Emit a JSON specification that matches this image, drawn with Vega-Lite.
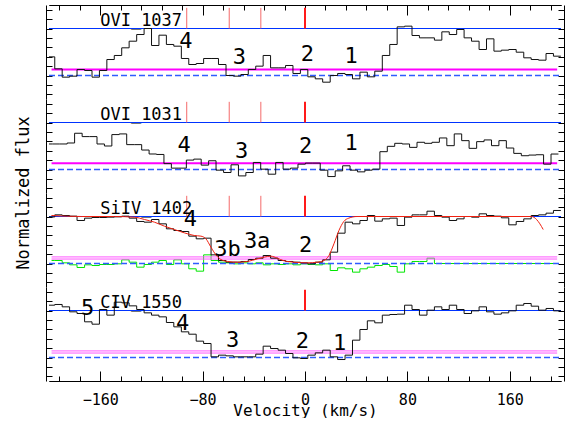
{
"$schema": "https://vega.github.io/schema/vega-lite/v6.json",
"padding": {"left": 14, "top": 4, "right": 15, "bottom": 0},
"config": {
  "view": {"stroke": null},
  "axis": {"grid": false, "domainColor": "#000", "tickColor": "#000", "labelFont": "DejaVu Sans Mono", "labelFontSize": 15, "labelColor": "#000", "titleFont": "DejaVu Sans Mono", "titleFontSize": 16, "titleFontWeight": "normal", "titleColor": "#000", "minExtent": 0},
  "text": {"font": "DejaVu Sans Mono", "color": "#000"}
},
"data": {"values": [
  {"kind":"cont","ion":"OVI_1037","v":-200,"v2":200,"f":1},
  {"kind":"cont","ion":"OVI_1031","v":-200,"v2":200,"f":1},
  {"kind":"cont","ion":"SiIV_1402","v":-200,"v2":200,"f":1},
  {"kind":"cont","ion":"CIV_1550","v":-200,"v2":200,"f":1},
  {"kind":"zero","ion":"OVI_1037","v":-200,"f":0},{"kind":"zero","ion":"OVI_1037","v":200,"f":0},
  {"kind":"zero","ion":"OVI_1031","v":-200,"f":0},{"kind":"zero","ion":"OVI_1031","v":200,"f":0},
  {"kind":"zero","ion":"SiIV_1402","v":-200,"f":0},{"kind":"zero","ion":"SiIV_1402","v":200,"f":0},
  {"kind":"zero","ion":"CIV_1550","v":-200,"f":0},{"kind":"zero","ion":"CIV_1550","v":200,"f":0},
  {"kind":"mag1","ion":"OVI_1037","v":-198,"v2":197,"f":0.13},
  {"kind":"mag1","ion":"OVI_1031","v":-198,"v2":197,"f":0.135},
  {"kind":"mag2","ion":"SiIV_1402","v":-198,"v2":197,"f":0.14},
  {"kind":"mag2","ion":"SiIV_1402","v":-198,"v2":197,"f":0.095},
  {"kind":"mag2","ion":"CIV_1550","v":-198,"v2":197,"f":0.14},
  {"kind":"mag2","ion":"CIV_1550","v":-198,"v2":197,"f":0.095},
  {"kind":"vt","ion":"OVI_1037","v":-92.4,"f":1,"f2":1.44},
  {"kind":"vt","ion":"OVI_1037","v":-59.2,"f":1,"f2":1.44},
  {"kind":"vt","ion":"OVI_1037","v":-34.5,"f":1,"f2":1.44},
  {"kind":"vt","ion":"OVI_1031","v":-92.4,"f":1,"f2":1.44},
  {"kind":"vt","ion":"OVI_1031","v":-59.2,"f":1,"f2":1.44},
  {"kind":"vt","ion":"OVI_1031","v":-34.5,"f":1,"f2":1.44},
  {"kind":"vt","ion":"SiIV_1402","v":-92.4,"f":1,"f2":1.44},
  {"kind":"vt","ion":"SiIV_1402","v":-59.2,"f":1,"f2":1.44},
  {"kind":"vt","ion":"SiIV_1402","v":-34.5,"f":1,"f2":1.44},
  {"kind":"vt0","ion":"OVI_1037","v":0,"f":1,"f2":1.44},
  {"kind":"vt0","ion":"OVI_1031","v":0,"f":1,"f2":1.44},
  {"kind":"vt0","ion":"SiIV_1402","v":0,"f":1,"f2":1.44},
  {"kind":"vt0","ion":"CIV_1550","v":0,"f":1,"f2":1.44},
  {"kind":"ionlab","ion":"OVI_1037","v":-160,"f":1.06,"t":"OVI_1037"},
  {"kind":"ionlab","ion":"OVI_1031","v":-160,"f":1.06,"t":"OVI_1031"},
  {"kind":"ionlab","ion":"SiIV_1402","v":-160,"f":1.06,"t":"SiIV_1402"},
  {"kind":"ionlab","ion":"CIV_1550","v":-160,"f":1.06,"t":"CIV_1550"},
  {"kind":"comp","ion":"OVI_1037","v":-93,"f":0.59,"t":"4"},
  {"kind":"comp","ion":"OVI_1037","v":-51.2,"f":0.24,"t":"3"},
  {"kind":"comp","ion":"OVI_1037","v":1.8,"f":0.31,"t":"2"},
  {"kind":"comp","ion":"OVI_1037","v":36,"f":0.26,"t":"1"},
  {"kind":"comp","ion":"OVI_1031","v":-94.5,"f":0.38,"t":"4"},
  {"kind":"comp","ion":"OVI_1031","v":-49.6,"f":0.25,"t":"3"},
  {"kind":"comp","ion":"OVI_1031","v":0.5,"f":0.36,"t":"2"},
  {"kind":"comp","ion":"OVI_1031","v":36,"f":0.41,"t":"1"},
  {"kind":"comp","ion":"SiIV_1402","v":-89.5,"f":0.8,"t":"4"},
  {"kind":"comp","ion":"SiIV_1402","v":-60.5,"f":0.17,"t":"3b"},
  {"kind":"comp","ion":"SiIV_1402","v":-37.4,"f":0.34,"t":"3a"},
  {"kind":"comp","ion":"SiIV_1402","v":0.5,"f":0.25,"t":"2"},
  {"kind":"comp","ion":"CIV_1550","v":-169.8,"f":0.9,"t":"5"},
  {"kind":"comp","ion":"CIV_1550","v":-95.6,"f":0.58,"t":"4"},
  {"kind":"comp","ion":"CIV_1550","v":-56.6,"f":0.22,"t":"3"},
  {"kind":"comp","ion":"CIV_1550","v":-2.1,"f":0.21,"t":"2"},
  {"kind":"comp","ion":"CIV_1550","v":27,"f":0.17,"t":"1"},
  {"kind":"s","ion":"OVI_1037","v":-200,"f":0.397},{"kind":"s","ion":"OVI_1037","v":-195.5,"f":0.142},{"kind":"s","ion":"OVI_1037","v":-189.7,"f":-0.035},{"kind":"s","ion":"OVI_1037","v":-183.9,"f":-0.014},{"kind":"s","ion":"OVI_1037","v":-178.1,"f":0.128},{"kind":"s","ion":"OVI_1037","v":-172.2,"f":0.106},{"kind":"s","ion":"OVI_1037","v":-166.4,"f":-0.035},{"kind":"s","ion":"OVI_1037","v":-160.6,"f":0.106},{"kind":"s","ion":"OVI_1037","v":-154.8,"f":0.34},{"kind":"s","ion":"OVI_1037","v":-149,"f":0.426},{"kind":"s","ion":"OVI_1037","v":-143.2,"f":0.589},{"kind":"s","ion":"OVI_1037","v":-137.4,"f":0.73},{"kind":"s","ion":"OVI_1037","v":-131.5,"f":0.872},{"kind":"s","ion":"OVI_1037","v":-125.7,"f":1.0},{"kind":"s","ion":"OVI_1037","v":-119.9,"f":0.638},{"kind":"s","ion":"OVI_1037","v":-114.1,"f":0.858},{"kind":"s","ion":"OVI_1037","v":-108.3,"f":0.66},{"kind":"s","ion":"OVI_1037","v":-102.5,"f":0.624},{"kind":"s","ion":"OVI_1037","v":-96.6,"f":0.362},{"kind":"s","ion":"OVI_1037","v":-90.8,"f":0.234},{"kind":"s","ion":"OVI_1037","v":-85,"f":0.255},{"kind":"s","ion":"OVI_1037","v":-79.2,"f":0.362},{"kind":"s","ion":"OVI_1037","v":-73.4,"f":0.362},{"kind":"s","ion":"OVI_1037","v":-67.6,"f":0.234},{"kind":"s","ion":"OVI_1037","v":-61.7,"f":0.0},{"kind":"s","ion":"OVI_1037","v":-55.9,"f":-0.014},{"kind":"s","ion":"OVI_1037","v":-50.1,"f":0.021},{"kind":"s","ion":"OVI_1037","v":-44.3,"f":0.128},{"kind":"s","ion":"OVI_1037","v":-38.5,"f":0.199},{"kind":"s","ion":"OVI_1037","v":-32.7,"f":0.426},{"kind":"s","ion":"OVI_1037","v":-26.9,"f":0.163},{"kind":"s","ion":"OVI_1037","v":-21,"f":0.163},{"kind":"s","ion":"OVI_1037","v":-15.2,"f":0.213},{"kind":"s","ion":"OVI_1037","v":-9.4,"f":0.043},{"kind":"s","ion":"OVI_1037","v":-3.6,"f":0.128},{"kind":"s","ion":"OVI_1037","v":2.2,"f":-0.028},{"kind":"s","ion":"OVI_1037","v":8,"f":-0.071},{"kind":"s","ion":"OVI_1037","v":13.8,"f":-0.142},{"kind":"s","ion":"OVI_1037","v":19.7,"f":0},{"kind":"s","ion":"OVI_1037","v":25.5,"f":0.043},{"kind":"s","ion":"OVI_1037","v":31.3,"f":0.021},{"kind":"s","ion":"OVI_1037","v":37.1,"f":-0.071},{"kind":"s","ion":"OVI_1037","v":42.9,"f":0.071},{"kind":"s","ion":"OVI_1037","v":48.7,"f":-0.028},{"kind":"s","ion":"OVI_1037","v":54.5,"f":0.092},{"kind":"s","ion":"OVI_1037","v":60.4,"f":0.426},{"kind":"s","ion":"OVI_1037","v":66.2,"f":0.66},{"kind":"s","ion":"OVI_1037","v":72,"f":1.035},{"kind":"s","ion":"OVI_1037","v":77.8,"f":1.05},{"kind":"s","ion":"OVI_1037","v":83.6,"f":0.851},{"kind":"s","ion":"OVI_1037","v":89.4,"f":0.801},{"kind":"s","ion":"OVI_1037","v":95.3,"f":0.801},{"kind":"s","ion":"OVI_1037","v":101.1,"f":0.752},{"kind":"s","ion":"OVI_1037","v":106.9,"f":0.929},{"kind":"s","ion":"OVI_1037","v":112.7,"f":0.872},{"kind":"s","ion":"OVI_1037","v":118.5,"f":0.979},{"kind":"s","ion":"OVI_1037","v":124.3,"f":0.801},{"kind":"s","ion":"OVI_1037","v":130.1,"f":0.73},{"kind":"s","ion":"OVI_1037","v":136,"f":0.553},{"kind":"s","ion":"OVI_1037","v":141.8,"f":0.78},{"kind":"s","ion":"OVI_1037","v":147.6,"f":0.518},{"kind":"s","ion":"OVI_1037","v":153.4,"f":0.539},{"kind":"s","ion":"OVI_1037","v":159.2,"f":0.553},{"kind":"s","ion":"OVI_1037","v":165,"f":0.496},{"kind":"s","ion":"OVI_1037","v":170.9,"f":0.376},{"kind":"s","ion":"OVI_1037","v":176.7,"f":0.34},{"kind":"s","ion":"OVI_1037","v":182.5,"f":0.326},{"kind":"s","ion":"OVI_1037","v":188.3,"f":0.468},{"kind":"s","ion":"OVI_1037","v":194.1,"f":0.411},{"kind":"s","ion":"OVI_1037","v":199.9,"f":0.411},
  {"kind":"s","ion":"OVI_1031","v":-200,"f":0.543},{"kind":"s","ion":"OVI_1031","v":-197.4,"f":0.543},{"kind":"s","ion":"OVI_1031","v":-191.6,"f":0.543},{"kind":"s","ion":"OVI_1031","v":-185.8,"f":0.564},{"kind":"s","ion":"OVI_1031","v":-180,"f":0.771},{"kind":"s","ion":"OVI_1031","v":-174.1,"f":0.7},{"kind":"s","ion":"OVI_1031","v":-168.3,"f":0.7},{"kind":"s","ion":"OVI_1031","v":-162.5,"f":0.543},{"kind":"s","ion":"OVI_1031","v":-156.7,"f":0.5},{"kind":"s","ion":"OVI_1031","v":-150.9,"f":0.743},{"kind":"s","ion":"OVI_1031","v":-145.1,"f":0.757},{"kind":"s","ion":"OVI_1031","v":-139.3,"f":0.529},{"kind":"s","ion":"OVI_1031","v":-133.4,"f":0.529},{"kind":"s","ion":"OVI_1031","v":-127.6,"f":0.414},{"kind":"s","ion":"OVI_1031","v":-121.8,"f":0.33},{"kind":"s","ion":"OVI_1031","v":-116,"f":0.32},{"kind":"s","ion":"OVI_1031","v":-110.2,"f":0.125},{"kind":"s","ion":"OVI_1031","v":-104.4,"f":0.029},{"kind":"s","ion":"OVI_1031","v":-98.5,"f":0.029},{"kind":"s","ion":"OVI_1031","v":-92.7,"f":0.2},{"kind":"s","ion":"OVI_1031","v":-86.9,"f":0.221},{"kind":"s","ion":"OVI_1031","v":-81.1,"f":0.093},{"kind":"s","ion":"OVI_1031","v":-75.3,"f":0.186},{"kind":"s","ion":"OVI_1031","v":-69.5,"f":-0.014},{"kind":"s","ion":"OVI_1031","v":-63.6,"f":-0.064},{"kind":"s","ion":"OVI_1031","v":-57.8,"f":0.1},{"kind":"s","ion":"OVI_1031","v":-52,"f":-0.136},{"kind":"s","ion":"OVI_1031","v":-46.2,"f":-0.064},{"kind":"s","ion":"OVI_1031","v":-40.4,"f":0.15},{"kind":"s","ion":"OVI_1031","v":-34.6,"f":0.007},{"kind":"s","ion":"OVI_1031","v":-28.8,"f":-0.1},{"kind":"s","ion":"OVI_1031","v":-22.9,"f":0.15},{"kind":"s","ion":"OVI_1031","v":-17.1,"f":0.007},{"kind":"s","ion":"OVI_1031","v":-11.3,"f":0.029},{"kind":"s","ion":"OVI_1031","v":-5.5,"f":0.114},{"kind":"s","ion":"OVI_1031","v":0.3,"f":0.136},{"kind":"s","ion":"OVI_1031","v":6.1,"f":0.136},{"kind":"s","ion":"OVI_1031","v":11.9,"f":-0.014},{"kind":"s","ion":"OVI_1031","v":17.8,"f":-0.15},{"kind":"s","ion":"OVI_1031","v":23.6,"f":-0.029},{"kind":"s","ion":"OVI_1031","v":29.4,"f":0.079},{"kind":"s","ion":"OVI_1031","v":35.2,"f":-0.014},{"kind":"s","ion":"OVI_1031","v":41,"f":-0.05},{"kind":"s","ion":"OVI_1031","v":46.8,"f":-0.014},{"kind":"s","ion":"OVI_1031","v":52.6,"f":0.007},{"kind":"s","ion":"OVI_1031","v":58.5,"f":0.379},{"kind":"s","ion":"OVI_1031","v":64.3,"f":0.493},{"kind":"s","ion":"OVI_1031","v":70.1,"f":0.557},{"kind":"s","ion":"OVI_1031","v":75.9,"f":0.543},{"kind":"s","ion":"OVI_1031","v":81.7,"f":0.471},{"kind":"s","ion":"OVI_1031","v":87.5,"f":0.579},{"kind":"s","ion":"OVI_1031","v":93.4,"f":0.557},{"kind":"s","ion":"OVI_1031","v":99.2,"f":0.579},{"kind":"s","ion":"OVI_1031","v":105,"f":0.671},{"kind":"s","ion":"OVI_1031","v":110.8,"f":0.507},{"kind":"s","ion":"OVI_1031","v":116.6,"f":0.757},{"kind":"s","ion":"OVI_1031","v":122.4,"f":0.614},{"kind":"s","ion":"OVI_1031","v":128.2,"f":0.45},{"kind":"s","ion":"OVI_1031","v":134.1,"f":0.593},{"kind":"s","ion":"OVI_1031","v":139.9,"f":0.629},{"kind":"s","ion":"OVI_1031","v":145.7,"f":0.507},{"kind":"s","ion":"OVI_1031","v":151.5,"f":0.614},{"kind":"s","ion":"OVI_1031","v":157.3,"f":0.457},{"kind":"s","ion":"OVI_1031","v":163.1,"f":0.343},{"kind":"s","ion":"OVI_1031","v":169,"f":0.293},{"kind":"s","ion":"OVI_1031","v":174.8,"f":0.307},{"kind":"s","ion":"OVI_1031","v":180.6,"f":0.314},{"kind":"s","ion":"OVI_1031","v":186.4,"f":0.114},{"kind":"s","ion":"OVI_1031","v":192.2,"f":0.329},{"kind":"s","ion":"OVI_1031","v":198,"f":0.329},
  {"kind":"s","ion":"SiIV_1402","v":-200,"f":0.99},{"kind":"s","ion":"SiIV_1402","v":-195.5,"f":1.035},{"kind":"s","ion":"SiIV_1402","v":-189.7,"f":1.021},{"kind":"s","ion":"SiIV_1402","v":-183.9,"f":1.007},{"kind":"s","ion":"SiIV_1402","v":-178.1,"f":0.915},{"kind":"s","ion":"SiIV_1402","v":-172.2,"f":0.965},{"kind":"s","ion":"SiIV_1402","v":-166.4,"f":0.979},{"kind":"s","ion":"SiIV_1402","v":-160.6,"f":0.979},{"kind":"s","ion":"SiIV_1402","v":-154.8,"f":0.986},{"kind":"s","ion":"SiIV_1402","v":-149,"f":0.993},{"kind":"s","ion":"SiIV_1402","v":-143.2,"f":1.007},{"kind":"s","ion":"SiIV_1402","v":-137.4,"f":0.965},{"kind":"s","ion":"SiIV_1402","v":-131.5,"f":0.894},{"kind":"s","ion":"SiIV_1402","v":-125.7,"f":0.879},{"kind":"s","ion":"SiIV_1402","v":-119.9,"f":0.936},{"kind":"s","ion":"SiIV_1402","v":-114.1,"f":0.844},{"kind":"s","ion":"SiIV_1402","v":-108.3,"f":0.738},{"kind":"s","ion":"SiIV_1402","v":-102.5,"f":0.702},{"kind":"s","ion":"SiIV_1402","v":-96.6,"f":0.681},{"kind":"s","ion":"SiIV_1402","v":-90.8,"f":0.582},{"kind":"s","ion":"SiIV_1402","v":-85,"f":0.525},{"kind":"s","ion":"SiIV_1402","v":-79.2,"f":0.539},{"kind":"s","ion":"SiIV_1402","v":-73.4,"f":0.184},{"kind":"s","ion":"SiIV_1402","v":-67.6,"f":0.064},{"kind":"s","ion":"SiIV_1402","v":-61.7,"f":0.028},{"kind":"s","ion":"SiIV_1402","v":-55.9,"f":0.028},{"kind":"s","ion":"SiIV_1402","v":-50.1,"f":0.043},{"kind":"s","ion":"SiIV_1402","v":-44.3,"f":0.085},{"kind":"s","ion":"SiIV_1402","v":-38.5,"f":0.113},{"kind":"s","ion":"SiIV_1402","v":-32.7,"f":0.17},{"kind":"s","ion":"SiIV_1402","v":-26.9,"f":0.113},{"kind":"s","ion":"SiIV_1402","v":-21,"f":0.064},{"kind":"s","ion":"SiIV_1402","v":-15.2,"f":0.043},{"kind":"s","ion":"SiIV_1402","v":-9.4,"f":0.028},{"kind":"s","ion":"SiIV_1402","v":-3.6,"f":0.014},{"kind":"s","ion":"SiIV_1402","v":2.2,"f":-0.007},{"kind":"s","ion":"SiIV_1402","v":8,"f":0.028},{"kind":"s","ion":"SiIV_1402","v":13.8,"f":0.078},{"kind":"s","ion":"SiIV_1402","v":19.7,"f":0.241},{"kind":"s","ion":"SiIV_1402","v":25.5,"f":0.645},{"kind":"s","ion":"SiIV_1402","v":31.3,"f":0.879},{"kind":"s","ion":"SiIV_1402","v":37.1,"f":0.844},{"kind":"s","ion":"SiIV_1402","v":42.9,"f":0.915},{"kind":"s","ion":"SiIV_1402","v":48.7,"f":1.021},{"kind":"s","ion":"SiIV_1402","v":54.5,"f":0.901},{"kind":"s","ion":"SiIV_1402","v":60.4,"f":0.95},{"kind":"s","ion":"SiIV_1402","v":66.2,"f":0.965},{"kind":"s","ion":"SiIV_1402","v":72,"f":0.809},{"kind":"s","ion":"SiIV_1402","v":77.8,"f":0.986},{"kind":"s","ion":"SiIV_1402","v":83.6,"f":1.035},{"kind":"s","ion":"SiIV_1402","v":89.4,"f":1.035},{"kind":"s","ion":"SiIV_1402","v":95.3,"f":1.113},{"kind":"s","ion":"SiIV_1402","v":101.1,"f":1.021},{"kind":"s","ion":"SiIV_1402","v":106.9,"f":0.986},{"kind":"s","ion":"SiIV_1402","v":112.7,"f":0.915},{"kind":"s","ion":"SiIV_1402","v":118.5,"f":0.95},{"kind":"s","ion":"SiIV_1402","v":124.3,"f":1.0},{"kind":"s","ion":"SiIV_1402","v":130.1,"f":0.986},{"kind":"s","ion":"SiIV_1402","v":136,"f":1.057},{"kind":"s","ion":"SiIV_1402","v":141.8,"f":1.021},{"kind":"s","ion":"SiIV_1402","v":147.6,"f":1.007},{"kind":"s","ion":"SiIV_1402","v":153.4,"f":0.972},{"kind":"s","ion":"SiIV_1402","v":159.2,"f":0.823},{"kind":"s","ion":"SiIV_1402","v":165,"f":0.894},{"kind":"s","ion":"SiIV_1402","v":170.9,"f":0.95},{"kind":"s","ion":"SiIV_1402","v":176.7,"f":1.021},{"kind":"s","ion":"SiIV_1402","v":182.5,"f":1.035},{"kind":"s","ion":"SiIV_1402","v":188.3,"f":1.071},{"kind":"s","ion":"SiIV_1402","v":194.1,"f":1.128},{"kind":"s","ion":"SiIV_1402","v":199.9,"f":1.128},
  {"kind":"s","ion":"CIV_1550","v":-200,"f":1.113},{"kind":"s","ion":"CIV_1550","v":-195.5,"f":1.128},{"kind":"s","ion":"CIV_1550","v":-189.7,"f":1.078},{"kind":"s","ion":"CIV_1550","v":-183.9,"f":0.972},{"kind":"s","ion":"CIV_1550","v":-178.1,"f":0.936},{"kind":"s","ion":"CIV_1550","v":-172.2,"f":0.759},{"kind":"s","ion":"CIV_1550","v":-166.4,"f":0.709},{"kind":"s","ion":"CIV_1550","v":-160.6,"f":1.021},{"kind":"s","ion":"CIV_1550","v":-154.8,"f":0.901},{"kind":"s","ion":"CIV_1550","v":-149,"f":1.177},{"kind":"s","ion":"CIV_1550","v":-143.2,"f":1.163},{"kind":"s","ion":"CIV_1550","v":-137.4,"f":1.099},{"kind":"s","ion":"CIV_1550","v":-131.5,"f":1.021},{"kind":"s","ion":"CIV_1550","v":-125.7,"f":0.95},{"kind":"s","ion":"CIV_1550","v":-119.9,"f":0.901},{"kind":"s","ion":"CIV_1550","v":-114.1,"f":0.865},{"kind":"s","ion":"CIV_1550","v":-108.3,"f":0.745},{"kind":"s","ion":"CIV_1550","v":-102.5,"f":0.652},{"kind":"s","ion":"CIV_1550","v":-96.6,"f":0.546},{"kind":"s","ion":"CIV_1550","v":-90.8,"f":0.496},{"kind":"s","ion":"CIV_1550","v":-85,"f":0.348},{"kind":"s","ion":"CIV_1550","v":-79.2,"f":0.298},{"kind":"s","ion":"CIV_1550","v":-73.4,"f":0.014},{"kind":"s","ion":"CIV_1550","v":-67.6,"f":0.05},{"kind":"s","ion":"CIV_1550","v":-61.7,"f":0.035},{"kind":"s","ion":"CIV_1550","v":-55.9,"f":0.014},{"kind":"s","ion":"CIV_1550","v":-50.1,"f":0.014},{"kind":"s","ion":"CIV_1550","v":-44.3,"f":0.014},{"kind":"s","ion":"CIV_1550","v":-38.5,"f":0.071},{"kind":"s","ion":"CIV_1550","v":-32.7,"f":0.241},{"kind":"s","ion":"CIV_1550","v":-26.9,"f":0.191},{"kind":"s","ion":"CIV_1550","v":-21,"f":0.156},{"kind":"s","ion":"CIV_1550","v":-15.2,"f":0.085},{"kind":"s","ion":"CIV_1550","v":-9.4,"f":-0.007},{"kind":"s","ion":"CIV_1550","v":-3.6,"f":-0.021},{"kind":"s","ion":"CIV_1550","v":2.2,"f":0.05},{"kind":"s","ion":"CIV_1550","v":8,"f":0.099},{"kind":"s","ion":"CIV_1550","v":13.8,"f":0.156},{"kind":"s","ion":"CIV_1550","v":19.7,"f":0.014},{"kind":"s","ion":"CIV_1550","v":25.5,"f":-0.043},{"kind":"s","ion":"CIV_1550","v":31.3,"f":0.05},{"kind":"s","ion":"CIV_1550","v":37.1,"f":0.369},{"kind":"s","ion":"CIV_1550","v":42.9,"f":0.596},{"kind":"s","ion":"CIV_1550","v":48.7,"f":0.78},{"kind":"s","ion":"CIV_1550","v":54.5,"f":0.738},{"kind":"s","ion":"CIV_1550","v":60.4,"f":0.901},{"kind":"s","ion":"CIV_1550","v":66.2,"f":0.915},{"kind":"s","ion":"CIV_1550","v":72,"f":0.922},{"kind":"s","ion":"CIV_1550","v":77.8,"f":1.113},{"kind":"s","ion":"CIV_1550","v":83.6,"f":1.021},{"kind":"s","ion":"CIV_1550","v":89.4,"f":0.901},{"kind":"s","ion":"CIV_1550","v":95.3,"f":1.007},{"kind":"s","ion":"CIV_1550","v":101.1,"f":1.078},{"kind":"s","ion":"CIV_1550","v":106.9,"f":1.021},{"kind":"s","ion":"CIV_1550","v":112.7,"f":1.113},{"kind":"s","ion":"CIV_1550","v":118.5,"f":1.021},{"kind":"s","ion":"CIV_1550","v":124.3,"f":0.936},{"kind":"s","ion":"CIV_1550","v":130.1,"f":0.993},{"kind":"s","ion":"CIV_1550","v":136,"f":1.078},{"kind":"s","ion":"CIV_1550","v":141.8,"f":0.972},{"kind":"s","ion":"CIV_1550","v":147.6,"f":0.922},{"kind":"s","ion":"CIV_1550","v":153.4,"f":0.95},{"kind":"s","ion":"CIV_1550","v":159.2,"f":0.993},{"kind":"s","ion":"CIV_1550","v":165,"f":1.113},{"kind":"s","ion":"CIV_1550","v":170.9,"f":1.149},{"kind":"s","ion":"CIV_1550","v":176.7,"f":1.092},{"kind":"s","ion":"CIV_1550","v":182.5,"f":1.007},{"kind":"s","ion":"CIV_1550","v":188.3,"f":1.043},{"kind":"s","ion":"CIV_1550","v":194.1,"f":0.993},{"kind":"s","ion":"CIV_1550","v":199.9,"f":0.993},
  {"kind":"e","ion":"SiIV_1402","v":-198,"f":0.064},{"kind":"e","ion":"SiIV_1402","v":-195.5,"f":0.064},{"kind":"e","ion":"SiIV_1402","v":-189.7,"f":0.014},{"kind":"e","ion":"SiIV_1402","v":-183.9,"f":-0.028},{"kind":"e","ion":"SiIV_1402","v":-178.1,"f":-0.085},{"kind":"e","ion":"SiIV_1402","v":-172.2,"f":-0.028},{"kind":"e","ion":"SiIV_1402","v":-166.4,"f":-0.043},{"kind":"e","ion":"SiIV_1402","v":-160.6,"f":-0.021},{"kind":"e","ion":"SiIV_1402","v":-154.8,"f":-0.021},{"kind":"e","ion":"SiIV_1402","v":-149,"f":-0.007},{"kind":"e","ion":"SiIV_1402","v":-143.2,"f":0.078},{"kind":"e","ion":"SiIV_1402","v":-137.4,"f":0.028},{"kind":"e","ion":"SiIV_1402","v":-131.5,"f":-0.078},{"kind":"e","ion":"SiIV_1402","v":-125.7,"f":-0.021},{"kind":"e","ion":"SiIV_1402","v":-119.9,"f":0.028},{"kind":"e","ion":"SiIV_1402","v":-114.1,"f":0.064},{"kind":"e","ion":"SiIV_1402","v":-108.3,"f":-0.021},{"kind":"e","ion":"SiIV_1402","v":-102.5,"f":0.078},{"kind":"e","ion":"SiIV_1402","v":-96.6,"f":-0.007},{"kind":"e","ion":"SiIV_1402","v":-90.8,"f":-0.113},{"kind":"e","ion":"SiIV_1402","v":-85,"f":-0.163},{"kind":"e","ion":"SiIV_1402","v":-79.2,"f":0.184},{"kind":"e","ion":"SiIV_1402","v":-73.4,"f":0.064},{"kind":"e","ion":"SiIV_1402","v":-67.6,"f":0.028},{"kind":"e","ion":"SiIV_1402","v":-61.7,"f":0.014},{"kind":"e","ion":"SiIV_1402","v":-55.9,"f":-0.007},{"kind":"e","ion":"SiIV_1402","v":-50.1,"f":0.014},{"kind":"e","ion":"SiIV_1402","v":-44.3,"f":-0.007},{"kind":"e","ion":"SiIV_1402","v":-38.5,"f":0.014},{"kind":"e","ion":"SiIV_1402","v":-32.7,"f":-0.028},{"kind":"e","ion":"SiIV_1402","v":-26.9,"f":-0.007},{"kind":"e","ion":"SiIV_1402","v":-21,"f":-0.021},{"kind":"e","ion":"SiIV_1402","v":-15.2,"f":-0.007},{"kind":"e","ion":"SiIV_1402","v":-9.4,"f":-0.028},{"kind":"e","ion":"SiIV_1402","v":-3.6,"f":-0.007},{"kind":"e","ion":"SiIV_1402","v":2.2,"f":-0.021},{"kind":"e","ion":"SiIV_1402","v":8,"f":-0.028},{"kind":"e","ion":"SiIV_1402","v":13.8,"f":-0.007},{"kind":"e","ion":"SiIV_1402","v":19.7,"f":-0.149},{"kind":"e","ion":"SiIV_1402","v":25.5,"f":-0.092},{"kind":"e","ion":"SiIV_1402","v":31.3,"f":-0.113},{"kind":"e","ion":"SiIV_1402","v":37.1,"f":-0.184},{"kind":"e","ion":"SiIV_1402","v":42.9,"f":-0.113},{"kind":"e","ion":"SiIV_1402","v":48.7,"f":-0.078},{"kind":"e","ion":"SiIV_1402","v":54.5,"f":-0.043},{"kind":"e","ion":"SiIV_1402","v":60.4,"f":-0.021},{"kind":"e","ion":"SiIV_1402","v":66.2,"f":-0.064},{"kind":"e","ion":"SiIV_1402","v":72,"f":-0.184},{"kind":"e","ion":"SiIV_1402","v":77.8,"f":-0.007},{"kind":"e","ion":"SiIV_1402","v":83.6,"f":0.043},{"kind":"e","ion":"SiIV_1402","v":89.4,"f":0.043},{"kind":"e","ion":"SiIV_1402","v":95.3,"f":0.113},{"kind":"e","ion":"SiIV_1402","v":101.1,"f":0},{"kind":"e","ion":"SiIV_1402","v":197,"f":0},
  {"kind":"fit","ion":"SiIV_1402","v":-198.1,"f":1.021},{"kind":"fit","ion":"SiIV_1402","v":-174.7,"f":1.0},{"kind":"fit","ion":"SiIV_1402","v":-148.8,"f":1.0},{"kind":"fit","ion":"SiIV_1402","v":-133.2,"f":0.986},{"kind":"fit","ion":"SiIV_1402","v":-125.4,"f":0.936},{"kind":"fit","ion":"SiIV_1402","v":-117.6,"f":0.879},{"kind":"fit","ion":"SiIV_1402","v":-109.8,"f":0.794},{"kind":"fit","ion":"SiIV_1402","v":-102.1,"f":0.723},{"kind":"fit","ion":"SiIV_1402","v":-94.3,"f":0.652},{"kind":"fit","ion":"SiIV_1402","v":-86.5,"f":0.596},{"kind":"fit","ion":"SiIV_1402","v":-81.3,"f":0.582},{"kind":"fit","ion":"SiIV_1402","v":-77.4,"f":0.525},{"kind":"fit","ion":"SiIV_1402","v":-73.5,"f":0.348},{"kind":"fit","ion":"SiIV_1402","v":-69.6,"f":0.184},{"kind":"fit","ion":"SiIV_1402","v":-65.7,"f":0.085},{"kind":"fit","ion":"SiIV_1402","v":-60.5,"f":0.043},{"kind":"fit","ion":"SiIV_1402","v":-52.7,"f":0.028},{"kind":"fit","ion":"SiIV_1402","v":-44.9,"f":0.043},{"kind":"fit","ion":"SiIV_1402","v":-37.1,"f":0.099},{"kind":"fit","ion":"SiIV_1402","v":-31.9,"f":0.135},{"kind":"fit","ion":"SiIV_1402","v":-26.8,"f":0.156},{"kind":"fit","ion":"SiIV_1402","v":-21.6,"f":0.113},{"kind":"fit","ion":"SiIV_1402","v":-16.4,"f":0.057},{"kind":"fit","ion":"SiIV_1402","v":-8.6,"f":0.028},{"kind":"fit","ion":"SiIV_1402","v":1.8,"f":0.014},{"kind":"fit","ion":"SiIV_1402","v":9.6,"f":0.028},{"kind":"fit","ion":"SiIV_1402","v":14.8,"f":0.064},{"kind":"fit","ion":"SiIV_1402","v":18.7,"f":0.17},{"kind":"fit","ion":"SiIV_1402","v":22.6,"f":0.418},{"kind":"fit","ion":"SiIV_1402","v":26.5,"f":0.702},{"kind":"fit","ion":"SiIV_1402","v":30.3,"f":0.894},{"kind":"fit","ion":"SiIV_1402","v":34.2,"f":0.965},{"kind":"fit","ion":"SiIV_1402","v":40.7,"f":1.0},{"kind":"fit","ion":"SiIV_1402","v":177,"f":1.0},{"kind":"fit","ion":"SiIV_1402","v":180.9,"f":0.936},{"kind":"fit","ion":"SiIV_1402","v":183.5,"f":0.844},{"kind":"fit","ion":"SiIV_1402","v":186.1,"f":0.723}
]},
"facet": {"row": {"field": "ion", "type": "nominal", "sort": ["OVI_1037", "OVI_1031", "SiIV_1402", "CIV_1550"], "title": "Normalized flux", "header": {"labels": false, "titleOrient": "left", "titleAngle": -90, "titleFont": "DejaVu Sans Mono", "titleFontSize": 17, "titleFontWeight": "normal", "titleColor": "#000", "titlePadding": -15}}},
"spacing": {"row": 0},
"spec": {
 "width": 512,
 "height": 94,
 "resolve": {"axis": {"x": "independent", "y": "independent"}},
 "layer": [
  {"transform": [{"filter": "datum.kind === 'cont'"}], "mark": {"type": "rule", "strokeWidth": 1},
   "encoding": {
    "x": {"field": "v", "type": "quantitative", "scale": {"domain": [-200, 200], "nice": false, "zero": false}, "axis": {"orient": "bottom", "values": [-192,-176,-160,-144,-128,-112,-96,-80,-64,-48,-32,-16,0,16,32,48,64,80,96,112,128,144,160,176,192], "tickSize": -5, "labels": false, "title": null}},
    "x2": {"field": "v2"},
    "y": {"field": "f", "type": "quantitative", "scale": {"domain": [-0.5, 1.5], "nice": false, "zero": false}, "axis": {"orient": "left", "values": [-0.4,-0.2,0,0.2,0.4,0.6,0.8,1,1.2,1.4], "tickSize": -6, "labels": false, "title": null}},
    "color": {"value": "#0033ff"}
   }},
  {"transform": [{"filter": "datum.kind === 'e'"}], "mark": {"type": "line", "strokeWidth": 1, "interpolate": "step-after"},
   "encoding": {"x": {"field": "v", "type": "quantitative", "axis": null}, "y": {"field": "f", "type": "quantitative", "axis": null}, "color": {"value": "#00e600"}}},
  {"transform": [{"filter": "datum.kind === 'zero'"}], "mark": {"type": "line", "strokeWidth": 1.3, "strokeDash": [6, 3], "stroke": "#2f5cff"},
   "encoding": {
    "x": {"field": "v", "type": "quantitative", "axis": {"orient": "bottom", "values": [-160, -80, 0, 80, 160], "tickSize": -10, "labels": true, "labelPadding": 21, "title": "Velocity (km/s)", "titleY": 21, "titleBaseline": "top"}},
    "y": {"field": "f", "type": "quantitative", "axis": {"orient": "right", "values": [-0.4,-0.2,0,0.2,0.4,0.6,0.8,1,1.2,1.4], "tickSize": -6, "labels": false, "title": null}}
   }},
  {"transform": [{"filter": "datum.kind === 'mag1'"}], "mark": {"type": "rule", "strokeWidth": 2},
   "encoding": {
    "x": {"field": "v", "type": "quantitative", "axis": {"orient": "top", "values": [-192,-176,-160,-144,-128,-112,-96,-80,-64,-48,-32,-16,0,16,32,48,64,80,96,112,128,144,160,176,192], "tickSize": -5, "labels": false, "title": null}},
    "x2": {"field": "v2"},
    "y": {"field": "f", "type": "quantitative", "axis": null},
    "color": {"value": "#ff00ff"}
   }},
  {"transform": [{"filter": "datum.kind === 'mag2'"}], "mark": {"type": "rule", "strokeWidth": 1},
   "encoding": {"x": {"field": "v", "type": "quantitative", "axis": null}, "x2": {"field": "v2"}, "y": {"field": "f", "type": "quantitative", "axis": null}, "color": {"value": "#ff55ff"}}},
  {"transform": [{"filter": "datum.kind === 's'"}], "mark": {"type": "line", "strokeWidth": 1, "interpolate": "step-after"},
   "encoding": {
    "x": {"field": "v", "type": "quantitative", "axis": {"orient": "top", "values": [-160, -80, 0, 80, 160], "tickSize": -10, "labels": false, "title": null}},
    "y": {"field": "f", "type": "quantitative", "axis": null},
    "color": {"value": "#111111"}
   }},
  {"transform": [{"filter": "datum.kind === 'fit'"}], "mark": {"type": "line", "strokeWidth": 1, "interpolate": "monotone"},
   "encoding": {"x": {"field": "v", "type": "quantitative", "axis": null}, "y": {"field": "f", "type": "quantitative", "axis": null}, "color": {"value": "#f02010"}}},
  {"transform": [{"filter": "datum.kind === 'vt'"}], "mark": {"type": "rule", "strokeWidth": 1},
   "encoding": {"x": {"field": "v", "type": "quantitative", "axis": null}, "y": {"field": "f", "type": "quantitative", "axis": null}, "y2": {"field": "f2"}, "color": {"value": "#f46a6a"}}},
  {"transform": [{"filter": "datum.kind === 'vt0'"}], "mark": {"type": "rule", "strokeWidth": 2},
   "encoding": {"x": {"field": "v", "type": "quantitative", "axis": null}, "y": {"field": "f", "type": "quantitative", "axis": null}, "y2": {"field": "f2"}, "color": {"value": "#ff1a1a"}}},
  {"transform": [{"filter": "datum.kind === 'ionlab'"}], "mark": {"type": "text", "align": "left", "baseline": "alphabetic", "fontSize": 17, "font": "DejaVu Sans Mono"},
   "encoding": {"x": {"field": "v", "type": "quantitative", "axis": null}, "y": {"field": "f", "type": "quantitative", "axis": null}, "text": {"field": "t"}}},
  {"transform": [{"filter": "datum.kind === 'comp'"}], "mark": {"type": "text", "align": "center", "baseline": "alphabetic", "fontSize": 22, "font": "DejaVu Sans Mono"},
   "encoding": {"x": {"field": "v", "type": "quantitative", "axis": null}, "y": {"field": "f", "type": "quantitative", "axis": null}, "text": {"field": "t"}}}
 ]
}
}
